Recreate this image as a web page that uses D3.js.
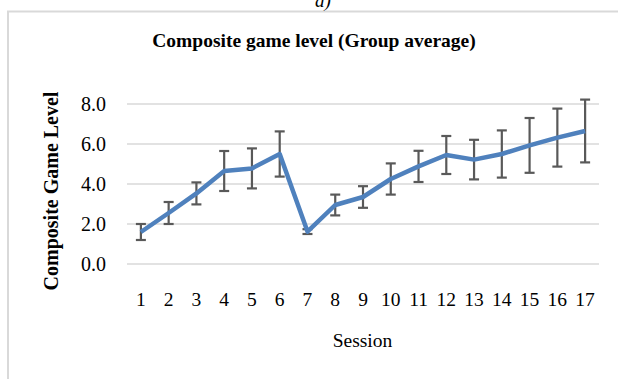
<!DOCTYPE html>
<html>
<head>
<meta charset="utf-8">
<script src="https://cdn.jsdelivr.net/npm/d3@7"></script>
<style>
  html, body { margin: 0; padding: 0; background: #fff; }
  svg { display: block; }
  text { font-family: "Liberation Serif", "Times New Roman", serif; fill: #000; }
</style>
</head>
<body>
<svg id="chart" width="618" height="379"></svg>
<script>
// Session numbers and group-average composite game level, with error bar half-widths
const sessions = [1, 2, 3, 4, 5, 6, 7, 8, 9, 10, 11, 12, 13, 14, 15, 16, 17];
const meanLevel = [1.6, 2.55, 3.53, 4.65, 4.78, 5.5, 1.62, 2.95, 3.35, 4.25, 4.88, 5.45, 5.22, 5.5, 5.93, 6.32, 6.65];
const errLevel = [0.4, 0.55, 0.55, 1.0, 1.0, 1.13, 0.12, 0.52, 0.54, 0.78, 0.78, 0.95, 0.99, 1.18, 1.37, 1.45, 1.57];
const yTicks = [0, 2, 4, 6, 8];

const serif = "Liberation Serif, Times New Roman, serif";
const svg = d3.select("#chart");

// outer chart frame (only left and top edges fall inside the view)
svg.append("path")
  .attr("d", "M8,379 L8,11.5 L618,11.5")
  .attr("fill", "none")
  .attr("stroke", "#d9d9d9")
  .attr("stroke-width", 2);

// panel label
svg.append("text")
  .attr("x", 323).attr("y", 7)
  .attr("text-anchor", "middle")
  .attr("font-size", 19)
  .attr("font-style", "italic")
  .text("a)");

const plot = { left: 127, right: 599, top: 104, bottom: 264 };

const x = d3.scaleBand()
  .domain(sessions)
  .range([plot.left, plot.right])
  .padding(0);

const y = d3.scaleLinear()
  .domain([0, 8])
  .range([plot.bottom, plot.top]);

// horizontal gridlines
svg.append("g")
  .selectAll("line")
  .data(yTicks)
  .join("line")
  .attr("x1", plot.left).attr("x2", plot.right)
  .attr("y1", d => y(d)).attr("y2", d => y(d))
  .attr("stroke", "#d9d9d9")
  .attr("stroke-width", 1.5);

// y axis tick labels
const yAxis = d3.axisLeft(y).tickValues(yTicks).tickFormat(d3.format(".1f")).tickSize(0).tickPadding(0);
svg.append("g")
  .attr("transform", `translate(${plot.left - 21},0)`)
  .call(yAxis)
  .call(g => g.select(".domain").remove())
  .call(g => g.selectAll("text")
    .attr("font-family", serif)
    .attr("font-size", 20)
    .attr("fill", "#000"));

// x axis tick labels
const xAxis = d3.axisBottom(x).tickSize(0).tickPadding(0);
svg.append("g")
  .attr("transform", `translate(0,${plot.bottom + 28})`)
  .call(xAxis)
  .call(g => g.select(".domain").remove())
  .call(g => g.selectAll("text")
    .attr("font-family", serif)
    .attr("font-size", 19.5)
    .attr("fill", "#000"));

const cx = d => x(d) + x.bandwidth() / 2;

// error bars
const eb = svg.append("g")
  .attr("stroke", "#595959")
  .attr("stroke-width", 2.2)
  .selectAll("g")
  .data(sessions.map((s, i) => ({ s, m: meanLevel[i], e: errLevel[i] })))
  .join("g");
eb.append("line")
  .attr("x1", d => cx(d.s)).attr("x2", d => cx(d.s))
  .attr("y1", d => y(d.m + d.e)).attr("y2", d => y(d.m - d.e));
eb.append("line")
  .attr("x1", d => cx(d.s) - 5).attr("x2", d => cx(d.s) + 5)
  .attr("y1", d => y(d.m + d.e)).attr("y2", d => y(d.m + d.e));
eb.append("line")
  .attr("x1", d => cx(d.s) - 5).attr("x2", d => cx(d.s) + 5)
  .attr("y1", d => y(d.m - d.e)).attr("y2", d => y(d.m - d.e));

// mean line
const line = d3.line()
  .x((d, i) => cx(sessions[i]))
  .y(d => y(d));
svg.append("path")
  .datum(meanLevel)
  .attr("d", line)
  .attr("fill", "none")
  .attr("stroke", "#4f81bd")
  .attr("stroke-width", 4.5)
  .attr("stroke-linejoin", "round");

// title
svg.append("text")
  .attr("x", 314).attr("y", 47)
  .attr("text-anchor", "middle")
  .attr("font-size", 19.5)
  .attr("font-weight", "bold")
  .text("Composite game level (Group average)");

// axis titles
svg.append("text")
  .attr("transform", `translate(58,${191}) rotate(-90)`)
  .attr("text-anchor", "middle")
  .attr("font-size", 20)
  .attr("font-weight", "bold")
  .text("Composite Game Level");

svg.append("text")
  .attr("x", 362.5).attr("y", 347)
  .attr("text-anchor", "middle")
  .attr("font-size", 19.5)
  .text("Session");
</script>
</body>
</html>
